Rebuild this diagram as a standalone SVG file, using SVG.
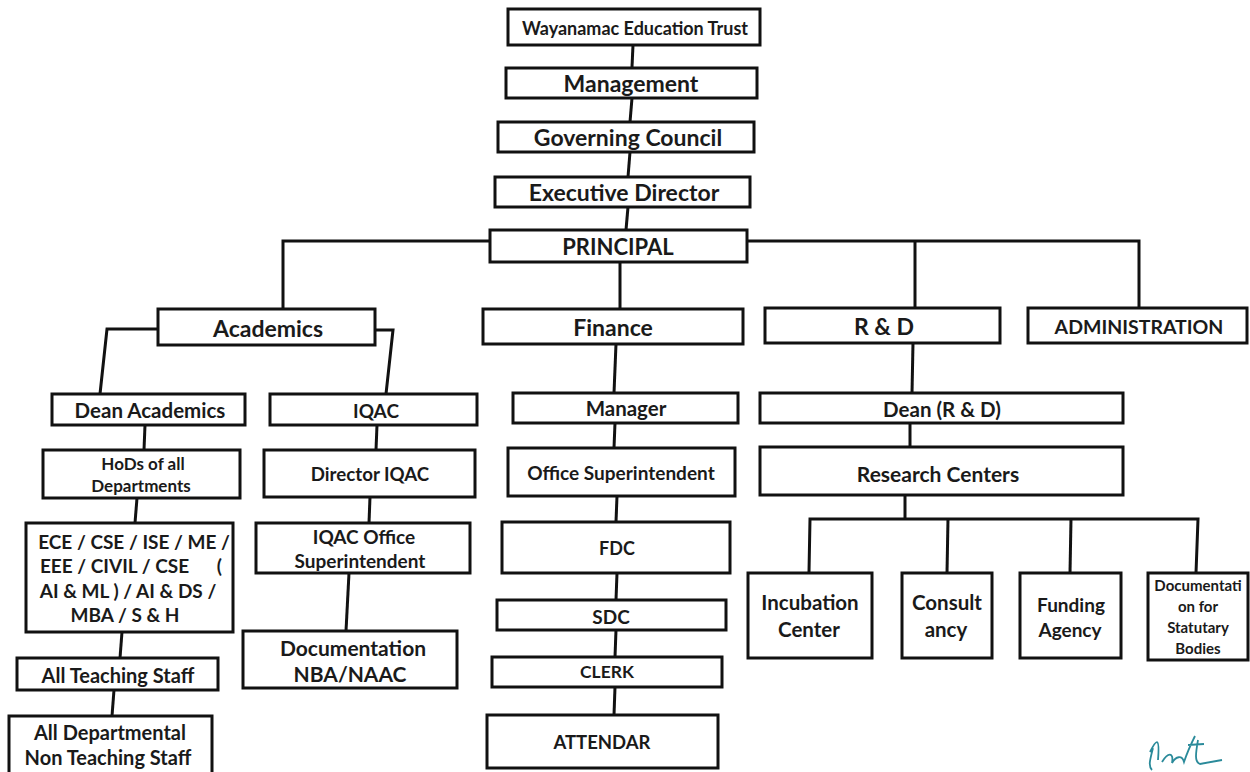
<svg xmlns="http://www.w3.org/2000/svg" width="1250" height="772" viewBox="0 0 1250 772">
<style>
.b{fill:#fff;stroke:#111;stroke-width:3}
.t{font-family:Lato,"Liberation Sans",sans-serif;font-weight:bold;fill:#1a1a1a;text-anchor:middle;dominant-baseline:central}
.c line,.c polyline{stroke:#111;stroke-width:3;fill:none}
</style>
<rect width="1250" height="772" fill="#fff"/>
<g class="c" id="connectors">
<line x1="633" y1="45" x2="632" y2="67"/>
<line x1="632" y1="98" x2="630" y2="122"/>
<line x1="630" y1="152" x2="628" y2="177"/>
<line x1="628" y1="207" x2="626" y2="230"/>
<polyline points="490,241 283,241 283,310"/>
<polyline points="747,241 1139,241 1139,308"/>
<line x1="915" y1="241" x2="915" y2="308"/>
<line x1="620" y1="262" x2="620" y2="309"/>
<polyline points="157,329 107,329 100,394"/>
<polyline points="375,330 393,330 386,394"/>
<line x1="145" y1="425" x2="144" y2="450"/>
<line x1="137" y1="498" x2="135" y2="523"/>
<line x1="122" y1="632" x2="120" y2="658"/>
<line x1="114" y1="690" x2="112" y2="716"/>
<line x1="377" y1="425" x2="376" y2="450"/>
<line x1="370" y1="497" x2="369" y2="523"/>
<line x1="349" y1="573" x2="346" y2="631"/>
<line x1="616" y1="344" x2="614" y2="393"/>
<line x1="615" y1="423" x2="614" y2="448"/>
<line x1="617" y1="496" x2="616" y2="522"/>
<line x1="617" y1="573" x2="616" y2="600"/>
<line x1="616" y1="630" x2="615" y2="657"/>
<line x1="615" y1="687" x2="614" y2="715"/>
<line x1="913" y1="343" x2="912" y2="393"/>
<line x1="910" y1="423" x2="910" y2="447"/>
<line x1="905" y1="495" x2="905" y2="519"/>
<polyline points="809,572 810,519 1198,519 1196,573"/>
<line x1="948" y1="519" x2="947" y2="573"/>
<line x1="1071" y1="519" x2="1070" y2="573"/>
</g>
<g id="trust"><rect class="b" x="508" y="9" width="252" height="36"/><text class="t" x="635" y="28" font-size="18">Wayanamac Education Trust</text></g>
<g id="management"><rect class="b" x="506" y="68" width="251" height="30"/><text class="t" x="631" y="83" font-size="23">Management</text></g>
<g id="council"><rect class="b" x="498" y="122" width="256" height="30"/><text class="t" x="628" y="137" font-size="23">Governing Council</text></g>
<g id="director"><rect class="b" x="495" y="177" width="255" height="30"/><text class="t" x="624" y="192" font-size="23">Executive Director</text></g>
<g id="principal"><rect class="b" x="490" y="230" width="257" height="32"/><text class="t" x="618" y="246" font-size="22">PRINCIPAL</text></g>
<g id="academics"><rect class="b" x="158" y="309" width="217" height="36"/><text class="t" x="268" y="328" font-size="23">Academics</text></g>
<g id="finance"><rect class="b" x="483" y="309" width="260" height="35"/><text class="t" x="613" y="327" font-size="23">Finance</text></g>
<g id="rnd"><rect class="b" x="765" y="308" width="235" height="35"/><text class="t" x="884" y="326" font-size="23">R &amp; D</text></g>
<g id="administration"><rect class="b" x="1028" y="308" width="219" height="35"/><text class="t" x="1139" y="326" font-size="19.5">ADMINISTRATION</text></g>
<g id="dean-academics"><rect class="b" x="52" y="394" width="193" height="31"/><text class="t" x="150" y="410" font-size="20.5">Dean Academics</text></g>
<g id="iqac"><rect class="b" x="270" y="394" width="207" height="31"/><text class="t" x="376" y="410" font-size="19">IQAC</text></g>
<g id="hods"><rect class="b" x="43" y="450" width="197" height="48"/><text class="t" x="143" y="463" font-size="17">HoDs of all</text><text class="t" x="141" y="485" font-size="17">Departments</text></g>
<g id="director-iqac"><rect class="b" x="264" y="450" width="211" height="47"/><text class="t" x="370" y="474" font-size="18.7">Director IQAC</text></g>
<g id="departments"><rect class="b" x="26" y="523" width="207" height="109"/>
<text class="t" x="134" y="541" font-size="19">ECE / CSE / ISE / ME /</text>
<text class="t" x="131" y="565" font-size="19" xml:space="preserve">EEE / CIVIL / CSE      (</text>
<text class="t" x="128" y="590" font-size="19">AI &amp; ML ) / AI &amp; DS /</text>
<text class="t" x="125" y="614" font-size="19">MBA / S &amp; H</text></g>
<g id="iqac-office"><rect class="b" x="256" y="523" width="214" height="50"/><text class="t" x="364" y="536" font-size="19">IQAC Office</text><text class="t" x="360" y="560" font-size="19">Superintendent</text></g>
<g id="teaching"><rect class="b" x="17" y="658" width="201" height="32"/><text class="t" x="118" y="675" font-size="20">All Teaching Staff</text></g>
<g id="nonteaching"><rect class="b" x="9" y="716" width="203" height="58"/><text class="t" x="110" y="732" font-size="20">All Departmental</text><text class="t" x="108" y="757" font-size="20">Non Teaching Staff</text></g>
<g id="documentation"><rect class="b" x="243" y="631" width="214" height="57"/><text class="t" x="353" y="647" font-size="21">Documentation</text><text class="t" x="350" y="673" font-size="21">NBA/NAAC</text></g>
<g id="manager"><rect class="b" x="513" y="393" width="225" height="30"/><text class="t" x="626" y="408" font-size="20.5">Manager</text></g>
<g id="office-sup"><rect class="b" x="508" y="448" width="227" height="48"/><text class="t" x="621" y="472" font-size="19">Office Superintendent</text></g>
<g id="fdc"><rect class="b" x="502" y="522" width="228" height="51"/><text class="t" x="617" y="548" font-size="18">FDC</text></g>
<g id="sdc"><rect class="b" x="497" y="600" width="229" height="30"/><text class="t" x="611" y="616" font-size="19">SDC</text></g>
<g id="clerk"><rect class="b" x="492" y="657" width="230" height="30"/><text class="t" x="607" y="671" font-size="17.5">CLERK</text></g>
<g id="attendar"><rect class="b" x="487" y="715" width="231" height="53"/><text class="t" x="602" y="742" font-size="18.5">ATTENDAR</text></g>
<g id="dean-rnd"><rect class="b" x="760" y="393" width="363" height="30"/><text class="t" x="942" y="409" font-size="20.5">Dean (R &amp; D)</text></g>
<g id="research"><rect class="b" x="760" y="447" width="363" height="48"/><text class="t" x="938" y="473" font-size="21">Research Centers</text></g>
<g id="incubation"><rect class="b" x="748" y="573" width="124" height="85"/><text class="t" x="810" y="602" font-size="20.5">Incubation</text><text class="t" x="809" y="629" font-size="20.5">Center</text></g>
<g id="consultancy"><rect class="b" x="902" y="573" width="90" height="85"/><text class="t" x="947" y="602" font-size="20.5">Consult</text><text class="t" x="946" y="629" font-size="20.5">ancy</text></g>
<g id="funding"><rect class="b" x="1020" y="573" width="101" height="85"/><text class="t" x="1071" y="604" font-size="19">Funding</text><text class="t" x="1070" y="629" font-size="19">Agency</text></g>
<g id="statutory"><rect class="b" x="1148" y="573" width="100" height="87"/><text class="t" x="1198" y="585" font-size="15">Documentati</text><text class="t" x="1198" y="606" font-size="15">on for</text><text class="t" x="1198" y="627" font-size="15">Statutary</text><text class="t" x="1198" y="648" font-size="15">Bodies</text></g>
<path d="M1153,748 C1150,760 1148,766 1152,770 M1150,752 C1156,740 1160,735 1158,760 M1162,762 C1168,752 1174,752 1172,763 C1176,756 1182,755 1184,762 C1188,750 1192,742 1195,736 M1188,745 L1204,744 M1198,740 C1196,752 1194,762 1200,764 L1222,760" fill="none" stroke="#2a8a9a" stroke-width="1.8"/>
</svg>
